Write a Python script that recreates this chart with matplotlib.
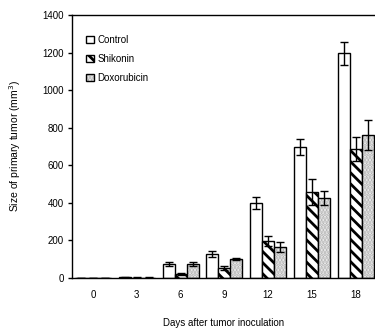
import matplotlib
matplotlib.use("Agg")
import matplotlib.pyplot as plt
import numpy as np
from matplotlib.patches import Patch
from matplotlib.legend_handler import HandlerTuple

plt.rcParams['font.family'] = ['Liberation Sans', 'DejaVu Sans']
plt.rcParams['hatch.linewidth'] = 2.0

days = ["0", "3", "6", "9", "12", "15", "18"]
control = [1, 3, 74, 128, 397, 697, 1195]
control_err = [0, 1, 12, 17, 32, 43, 63]
shikonin = [1, 2, 22, 53, 197, 458, 686]
shikonin_err = [0, 1, 4, 12, 27, 70, 64]
doxorubicin = [1, 2, 74, 101, 165, 426, 761]
doxorubicin_err = [0, 1, 10, 5, 25, 37, 78]
series_names = ["Control", "Shikonin", "Doxorubicin"]

fig = plt.figure(figsize=(3.75, 3.32), dpi=100)
ax = fig.add_axes([0.192, 0.163, 0.808, 0.792])

x = np.arange(len(days))
w = 0.275
err_kw = dict(ecolor='black', elinewidth=1.0, capsize=2.8, capthick=1.0)
ax.bar(x - w, control, w, yerr=control_err, color='white', edgecolor='black', linewidth=1.0, error_kw=err_kw, zorder=2)
ax.bar(x, shikonin, w, yerr=shikonin_err, color='white', edgecolor='black', linewidth=1.0, hatch='\\\\\\', error_kw=err_kw, zorder=2)
# doxorubicin: light grey stipple, black outline on top
ax.bar(x + w, doxorubicin, w, color='#f4f4f4', edgecolor='#b4b4b4', linewidth=0, hatch='.....', zorder=2)
ax.bar(x + w, doxorubicin, w, yerr=doxorubicin_err, fill=False, edgecolor='black', linewidth=1.0, error_kw=err_kw, zorder=3)

ax.set_xlim(-0.48, 6.44)
ax.set_ylim(0, 1400)
ax.set_yticks(np.arange(0, 1401, 200))
ax.set_xticks(x)
ax.set_xticklabels(days)
ax.spines['right'].set_visible(False)
for s in ['left', 'top', 'bottom']:
    ax.spines[s].set_linewidth(1.0)
ax.tick_params(axis='y', direction='out', length=3, width=1, labelsize=7, pad=3)
ax.tick_params(axis='x', length=0, labelsize=7, pad=9)

ax.set_xlabel("Days after tumor inoculation", fontsize=7, labelpad=13)
ax.set_ylabel("Size of primary tumor (mm$^3$)", fontsize=7.5, labelpad=14)

h_control = Patch(facecolor='white', edgecolor='black', linewidth=1.0)
h_shik = Patch(facecolor='white', edgecolor='black', linewidth=1.0, hatch='\\\\\\')
h_dox = (Patch(facecolor='#f4f4f4', edgecolor='#b4b4b4', linewidth=0, hatch='.....'),
         Patch(fill=False, edgecolor='black', linewidth=1.0))
ax.legend([h_control, h_shik, h_dox], series_names, loc='upper left', bbox_to_anchor=(0.035, 0.94), frameon=False,
          fontsize=7, handlelength=0.8, handleheight=0.8, handletextpad=0.3, labelspacing=0.95,
          borderaxespad=0, handler_map={tuple: HandlerTuple(ndivide=1, pad=0)})

fig.savefig("out.png", dpi=100)
